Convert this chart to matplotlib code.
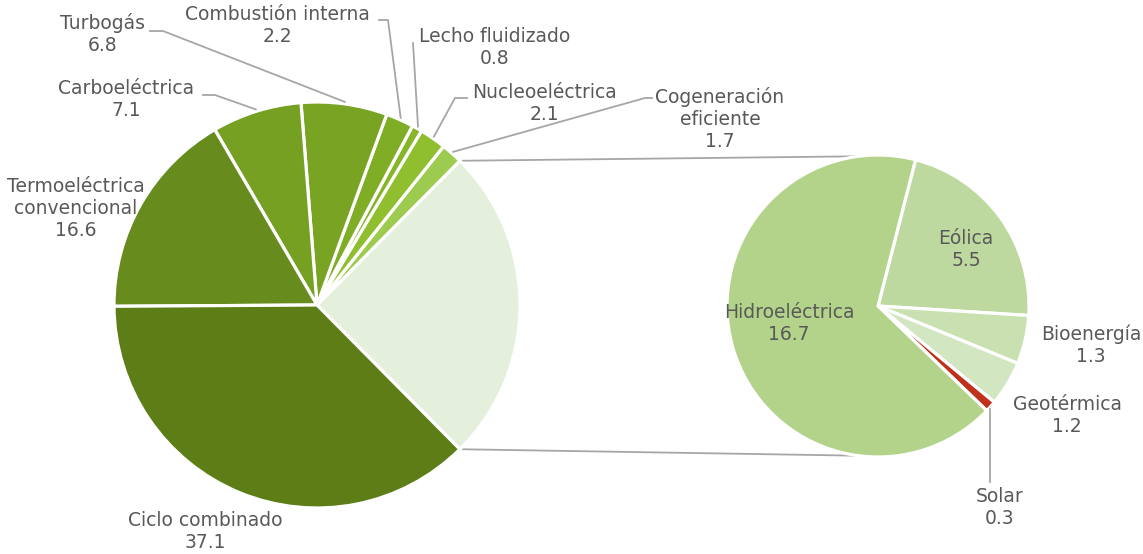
import numpy as np
import matplotlib.pyplot as plt

# main pie (left)
main_labels = ['Otras', 'Cogeneración\neficiente', 'Nucleoeléctrica', 'Lecho fluidizado',
               'Combustión interna', 'Turbogás', 'Carboeléctrica',
               'Termoeléctrica\nconvencional', 'Ciclo combinado']
main_values = [25.0, 1.7, 2.1, 0.8, 2.2, 6.8, 7.1, 16.6, 37.1]
main_colors = ['#e4efdc', '#9dcb4f', '#8fbf2e', '#86b52a', '#80ad26',
               '#79a322', '#75a022', '#678b1c', '#5d7d17']

# secondary pie (right), renewables
sub_labels = ['Eólica', 'Bioenergía', 'Geotérmica', 'Solar', 'Hidroeléctrica']
sub_values = [5.5, 1.3, 1.2, 0.3, 16.7]
sub_colors = ['#bed99f', '#c9e1b0', '#d3e6c2', '#c0311c', '#b3d28a']

W, H = 1143, 554
TXT = '#595959'
LINE = '#a6a6a6'

fig = plt.figure(figsize=(W / 100, H / 100), dpi=100)
ax = fig.add_axes([0, 0, 1, 1])

c1, r1 = (317, H - 305), 203
c2, r2 = (878, H - 306), 151

start1 = -main_values[0] / sum(main_values) * 180
w1, _ = ax.pie(main_values, colors=main_colors, startangle=start1, counterclock=True,
               center=c1, radius=r1, frame=True,
               wedgeprops=dict(edgecolor='white', linewidth=2.3))
w2, _ = ax.pie(sub_values, colors=sub_colors, startangle=75.6, counterclock=False,
               center=c2, radius=r2, frame=True,
               wedgeprops=dict(edgecolor='white', linewidth=2.3))
ax.set_xlim(0, W)
ax.set_ylim(0, H)
ax.set_aspect('equal')
ax.axis('off')


def edge_point(w, center, r, frac=0.5):
    th = np.deg2rad(w.theta1 + (w.theta2 - w.theta1) * frac)
    return center[0] + r * np.cos(th), center[1] + r * np.sin(th)


# connector lines between the two pies
other = w1[0]
for th, side in [(other.theta2, 1), (other.theta1, -1)]:
    x0 = c1[0] + r1 * np.cos(np.deg2rad(th))
    y0 = c1[1] + r1 * np.sin(np.deg2rad(th))
    a = np.deg2rad(97.5 * side)
    x1, y1 = c2[0] + r2 * np.cos(a), c2[1] + r2 * np.sin(a)
    ax.plot([x0, x1], [y0, y1], color=LINE, lw=1.3, zorder=0)

fs = 13.5


def label(x, y, name, val):
    ax.text(x, H - y, f'{name}\n{val}', ha='center', va='center', fontsize=fs,
            color=TXT, linespacing=1.2, family='DejaVu Sans')


# labels on the main pie: (index, text position, elbow points)
main_lab = [
    (8, (205, 531), None),
    (7, (76, 209), None),
    (6, (126, 100), [(203, 95), (215, 95)]),
    (5, (103, 34), [(150, 31), (163, 31)]),
    (4, (277, 25), [(379, 20), (388, 20)]),
    (3, (495, 47), [(413, 43)]),
    (2, (544, 103), [(467, 98), (455, 98)]),
    (1, (720, 119), [(652, 98), (645, 98)]),
]
for i, (tx, ty), elbow in main_lab:
    label(tx, ty, main_labels[i], main_values[i])
    if elbow:
        px, py = edge_point(w1[i], c1, r1 + 2)
        pts = [(x, H - y) for x, y in elbow] + [(px, py)]
        ax.plot([p[0] for p in pts], [p[1] for p in pts], color=LINE, lw=1.3)

# labels on the secondary pie
sub_lab = [
    (4, (789, 324)),
    (0, (966, 250)),
    (1, (1091, 345)),
    (2, (1067, 415)),
    (3, (1000, 507)),
]
for i, (tx, ty) in sub_lab:
    label(tx, ty, sub_labels[i], sub_values[i])

# leader for Solar
sx, sy = edge_point(w2[3], c2, r2 + 3)
ax.plot([990, 990], [sy, H - 482], color=LINE, lw=1.3)

fig.savefig('out.png', dpi=100)
